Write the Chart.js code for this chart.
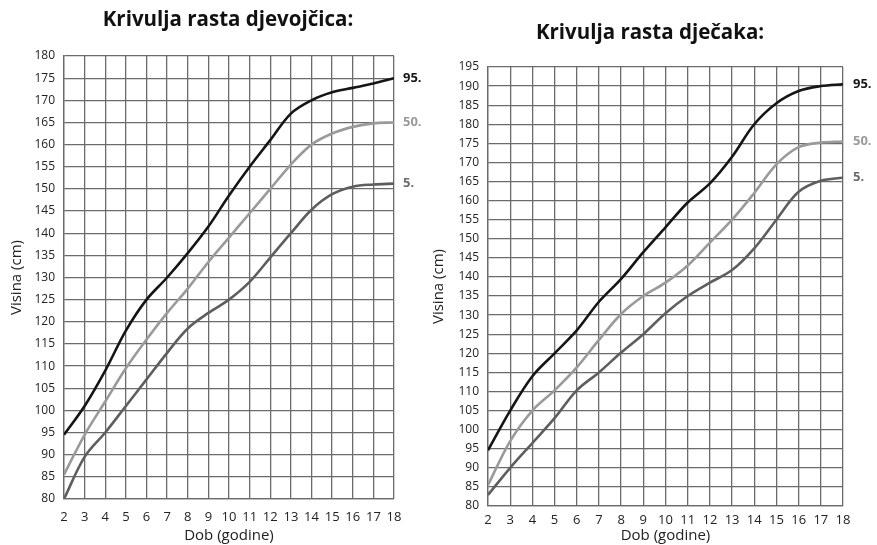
<!DOCTYPE html>
<html>
<head>
<meta charset="utf-8">
<script src="https://cdn.jsdelivr.net/npm/chart.js@4.4.1/dist/chart.umd.min.js"></script>
<style>
  html, body { margin: 0; padding: 0; background: #fff; }
  #wrap { position: relative; width: 877px; height: 545px; overflow: hidden; }
  canvas { position: absolute; top: 0; }
</style>
</head>
<body>
<div id="wrap">
  <canvas id="girls" width="440" height="545" style="left:0px;width:440px;height:545px"></canvas>
  <canvas id="boys" width="447" height="545" style="left:430px;width:447px;height:545px"></canvas>
</div>
<script>
// ---- data ----
const ages = [2, 3, 4, 5, 6, 7, 8, 9, 10, 11, 12, 13, 14, 15, 16, 17, 18];

const girlsP95 = [94.5, 101, 109, 118, 125, 130, 135.5, 141.5, 148.5, 155, 161, 167, 170, 171.8, 172.8, 173.8, 175];
const girlsP50 = [85.5, 94.5, 102, 109.5, 116, 122, 127.5, 133.5, 139, 144.5, 150, 155.5, 160, 162.5, 164, 164.8, 165];
const girlsP5  = [80, 89.5, 95, 101, 107, 113, 118.5, 122, 125, 129, 134.5, 140, 145.3, 148.8, 150.5, 151, 151.2];

const boysP95 = [94.6, 105, 114, 120, 126, 133.5, 139.5, 146.5, 153, 159.5, 164.5, 171.5, 180, 185.5, 188.7, 190, 190.5];
const boysP50 = [85.5, 97, 105, 110.3, 116.3, 123.5, 130.3, 135, 138.5, 143, 149, 155, 162, 169.5, 174, 175.2, 175.5];
const boysP5  = [82.9, 90, 96.5, 103, 110.3, 115, 120.2, 125, 130.5, 135, 138.5, 141.8, 147.5, 155, 162.3, 165.2, 166];

const seriesLabels = ['95.', '50.', '5.'];
const girlsTitle = 'Krivulja rasta djevojčica:';
const boysTitle = 'Krivulja rasta dječaka:';
const yTitle = 'Visina (cm)';
const xTitle = 'Dob (godine)';

// ---- styles ----
const lineColors = ['#151515', '#9a9a9a', '#5e5e5e'];
const labelColors = ['#151515', '#9a9a9a', '#6a6a6a'];
const gridColor = '#6b6b6b';
const FONT = "'Open Sans', 'Noto Sans', sans-serif";

const endLabels = {
  id: 'endLabels',
  afterLayout(chart, args, opts) {
    if (opts.titleCenter != null && chart.titleBlock) {
      const tb = chart.titleBlock;
      const half = (tb.right - tb.left) / 2;
      tb.left = opts.titleCenter - half;
      tb.right = opts.titleCenter + half;
    }
  },
  afterDatasetsDraw(chart, args, opts) {
    const ctx = chart.ctx;
    ctx.save();
    ctx.font = "bold 13px " + FONT;
    ctx.textBaseline = 'middle';
    ctx.textAlign = 'left';
    chart.data.datasets.forEach((ds, i) => {
      const meta = chart.getDatasetMeta(i);
      const pt = meta.data[meta.data.length - 1];
      ctx.fillStyle = labelColors[i];
      ctx.fillText(ds.label, chart.chartArea.right + opts.dx, pt.y);
    });
    ctx.restore();
  }
};

function toPoints(vals) { return ages.map((a, i) => ({ x: a, y: vals[i] })); }

function makeChart(id, title, series, yMax, cfg) {
  return new Chart(document.getElementById(id), {
    type: 'line',
    data: {
      datasets: series.map((s, i) => ({
        label: seriesLabels[i],
        data: toPoints(s),
        borderColor: lineColors[i],
        borderWidth: 2.6,
        pointRadius: 0,
        tension: 0.35,
        fill: false
      }))
    },
    options: {
      responsive: false,
      animation: false,
      devicePixelRatio: 1,
      layout: { padding: { left: 0, right: cfg.right, top: 0, bottom: 0 } },
      plugins: {
        legend: { display: false },
        tooltip: { enabled: false },
        title: {
          display: true,
          text: title,
          fullSize: false,
          color: '#111',
          font: { family: FONT, size: 20.5, weight: 'bold' },
          padding: { top: cfg.titleTop, bottom: cfg.titleBottom }
        },
        endLabels: { dx: cfg.dx, titleCenter: cfg.titleCenter }
      },
      scales: {
        x: {
          type: 'linear',
          min: 2, max: 18,
          afterFit(scale) { scale.height = cfg.xh; },
          ticks: { stepSize: 1, autoSkip: false, maxRotation: 0, minRotation: 0, color: '#222', padding: cfg.xpad, font: { family: FONT, size: 13 } },
          grid: { color: gridColor, lineWidth: 1.3, drawTicks: false },
          border: { color: gridColor, width: 1.3 },
          title: { display: true, text: xTitle, color: '#222', padding: { top: 0, bottom: 0 }, font: { family: FONT, size: 15 } }
        },
        y: {
          type: 'linear',
          min: 80, max: yMax,
          afterFit(scale) { scale.width = cfg.yw; },
          ticks: { stepSize: 5, autoSkip: false, color: '#222', padding: 9, font: { family: FONT, size: 12 } },
          grid: { color: gridColor, lineWidth: 1.3, drawTicks: false },
          border: { color: gridColor, width: 1.3 },
          title: { display: true, text: yTitle, color: '#222', padding: { top: cfg.ytp, bottom: 0 }, font: { family: FONT, size: 15 } }
        }
      }
    },
    plugins: [endLabels]
  });
}

makeChart('girls', girlsTitle, [girlsP95, girlsP50, girlsP5], 180,
  { right: 46, titleTop: 7.7, titleBottom: 23.7, titleCenter: 228, xh: 46, xpad: 10, yw: 64, ytp: 8, dx: 9 });
makeChart('boys', boysTitle, [boysP95, boysP50, boysP5], 195,
  { right: 34, titleTop: 20.7, titleBottom: 21.7, titleCenter: 220, xh: 39, xpad: 6, yw: 58, ytp: 0, dx: 10 });
</script>
</body>
</html>
